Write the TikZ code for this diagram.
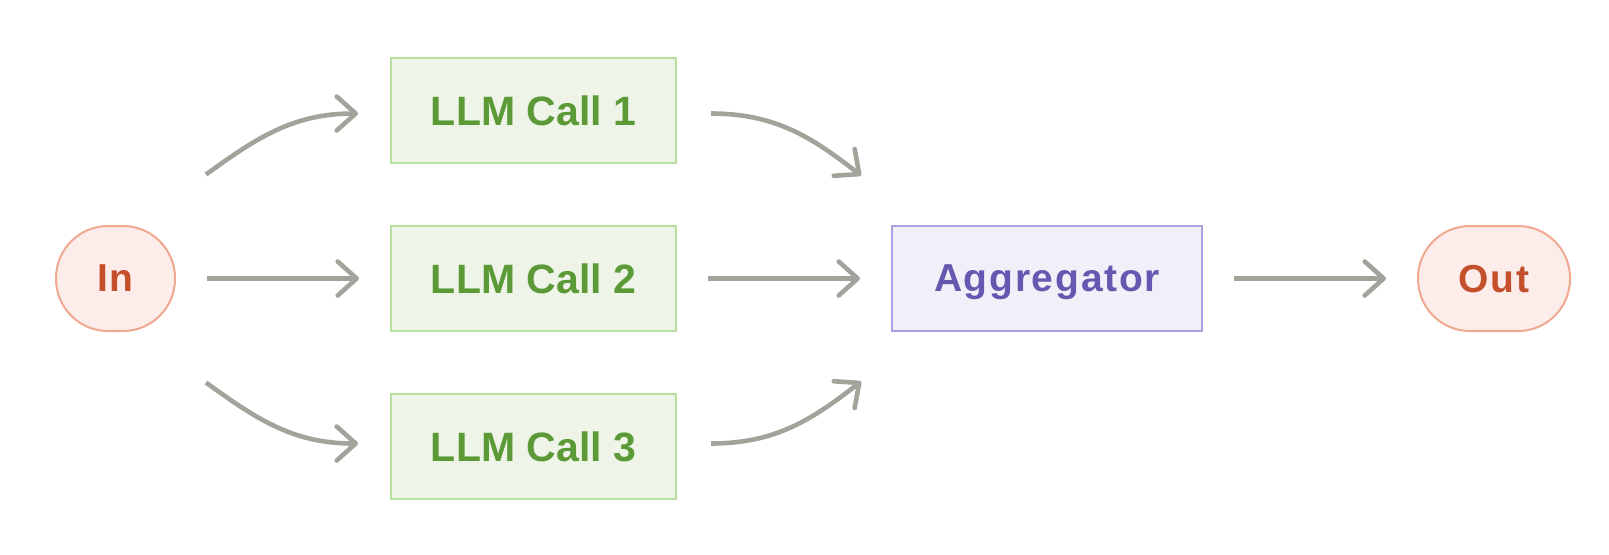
\documentclass[tikz,border=0pt]{standalone}
\usepackage{fontspec}
\setmainfont{Liberation Sans}
\newfontfamily\termfont[LetterSpace=4.5]{Liberation Sans}
\usetikzlibrary{positioning,arrows.meta}
\definecolor{termfill}{HTML}{FCEDEA}
\definecolor{termline}{HTML}{F0A890}
\definecolor{termtext}{HTML}{C4502B}
\definecolor{llmfill}{HTML}{EEF5E8}
\definecolor{llmline}{HTML}{B8DFA0}
\definecolor{llmtext}{HTML}{5B9A36}
\definecolor{aggfill}{HTML}{F1F0F8}
\definecolor{aggline}{HTML}{AAA0E2}
\definecolor{aggtext}{HTML}{6558B0}
\definecolor{arrgray}{HTML}{A3A39B}

\begin{document}
\begin{tikzpicture}[
    node distance=30.5pt and 107pt,
    box/.style={draw, line width=1pt, minimum height=52.5pt, align=center, inner sep=0pt, text depth=0pt},
    term/.style={box, rounded corners=26pt, fill=termfill, draw=termline, text=termtext, font=\termfont\bfseries\fontsize{19.5}{23}\selectfont},
    llm/.style={box, minimum width=142.5pt, fill=llmfill, draw=llmline, text=llmtext, font=\bfseries\fontsize{20.5}{24}\selectfont},
    agg/.style={box, minimum width=155pt, fill=aggfill, draw=aggline, text=aggtext, font=\termfont\bfseries\fontsize{19.5}{23}\selectfont},
    arr/.style={-{Straight Barb[length=9.5pt,width=17pt,round]}, line width=2.3pt, draw=arrgray},
    link/.style={arr, shorten <=15.5pt, shorten >=15.5pt}
]
\useasboundingbox (0,0) rectangle (804.5pt,-277pt);

\node[term, minimum width=59.5pt] (in) at (57.75pt,-139.25pt) {In};

\node[llm, right=of in] (call2) {LLM Call 2};
\node[llm, above=of call2] (call1) {LLM Call 1};
\node[llm, below=of call2] (call3) {LLM Call 3};

\node[agg, right=of call2] (agg) {Aggregator};
\node[term, minimum width=76pt, right=of agg] (out) {Out};

% free ends of the curved arrows
\coordinate[above right=52pt and 15pt of in.east] (in-up);
\coordinate[below right=52pt and 15pt of in.east] (in-down);
\coordinate[below left=1.5pt and 16pt of call1.west] (call1-in);
\coordinate[above left=1.5pt and 16pt of call3.west] (call3-in);
\coordinate[below right=1.5pt and 17pt of call1.east] (call1-out);
\coordinate[above right=1.5pt and 17pt of call3.east] (call3-out);
\coordinate[above left=51.5pt and 15pt of agg.west] (agg-up);
\coordinate[below left=51.5pt and 15pt of agg.west] (agg-down);

\draw[arr] (in-up) to[out=36, in=180] (call1-in);
\draw[link] (in) -- (call2);
\draw[arr] (in-down) to[out=-36, in=180] (call3-in);
\draw[arr] (call1-out) to[out=0, in=142] (agg-up);
\draw[link] (call2) -- (agg);
\draw[arr] (call3-out) to[out=0, in=-142] (agg-down);
\draw[link] (agg) -- (out);
\end{tikzpicture}
\end{document}
